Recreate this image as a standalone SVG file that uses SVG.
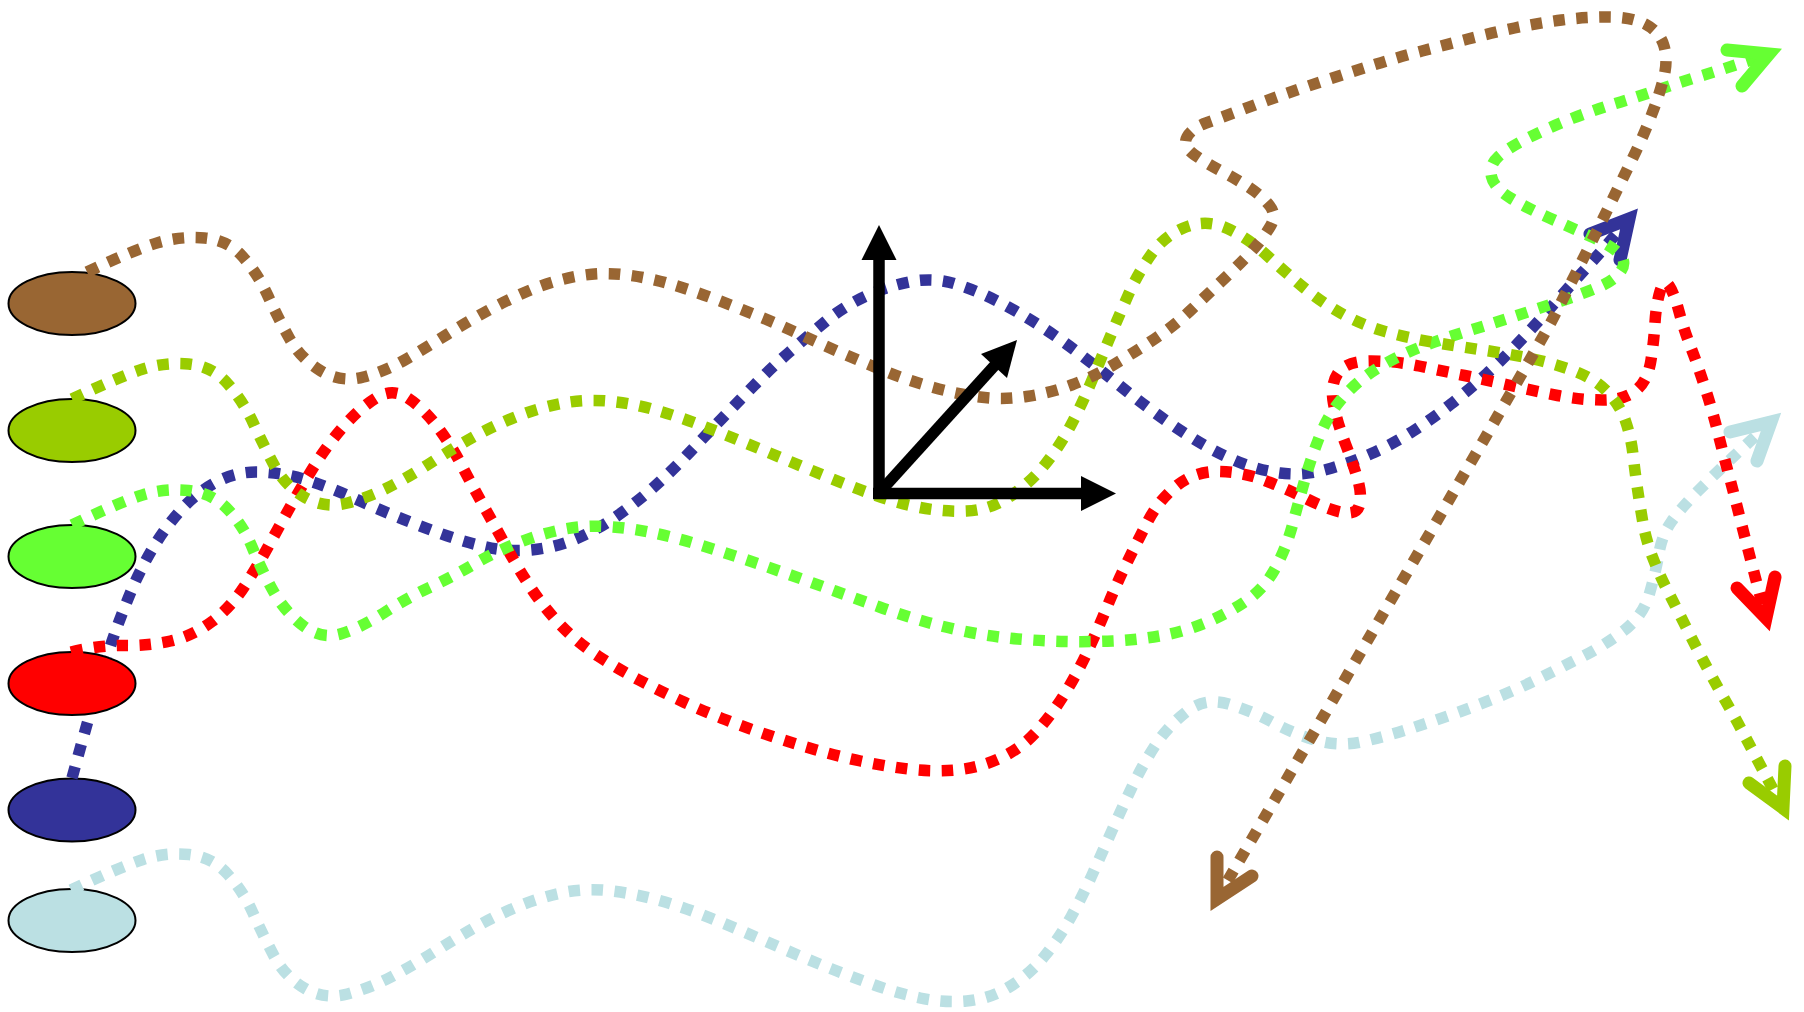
<svg xmlns="http://www.w3.org/2000/svg" width="1804" height="1012" viewBox="0 0 1804 1012">
<style>
.node{stroke:#000;stroke-width:2}
.dot{fill:none;stroke-width:11.5;stroke-dasharray:11.5 11.5}
.head{fill:none;stroke-width:13;stroke-linecap:round;stroke-linejoin:miter;stroke-miterlimit:10}
.axis{fill:none;stroke:#000;stroke-width:11.5}
.axhead{fill:#000;stroke:none}
</style>
<defs>
<mask id="hideRed" maskUnits="userSpaceOnUse" x="0" y="0" width="1804" height="1012">
<rect x="0" y="0" width="1804" height="1012" fill="#fff"/>
<ellipse cx="72" cy="683.5" rx="64.5" ry="32.5" fill="#000"/>
</mask>
</defs>
<rect width="1804" height="1012" fill="#fff"/>
<g id="node-brown"><ellipse class="node" cx="72" cy="303.5" rx="63.5" ry="31.5" fill="#996633"/></g>
<g id="node-yellowgreen"><ellipse class="node" cx="72" cy="430.5" rx="63.5" ry="31.5" fill="#99CC00"/></g>
<g id="node-green"><ellipse class="node" cx="72" cy="556.5" rx="63.5" ry="31.5" fill="#66FF33"/></g>
<g id="node-red"><ellipse class="node" cx="72" cy="683.5" rx="63.5" ry="31.5" fill="#FF0000"/></g>
<g id="node-blue"><ellipse class="node" cx="72" cy="810" rx="63.5" ry="31.5" fill="#333399"/></g>
<g id="node-lightblue"><ellipse class="node" cx="72" cy="920.5" rx="63.5" ry="31.5" fill="#BBE0E3"/></g>
<g id="connectors">
<g id="edge-lightblue">
<path class="dot" stroke="#BBE0E3" d="M71,890 Q120,867 143,859.5 Q166,852 189,854.5 Q212,857 227.5,874 Q243,891 252.5,912 Q262,933 273.5,955 Q285,977 305,988.5 Q325,1000 347.5,994 Q370,988 391,977 Q412,966 432.5,953 Q453,940 473,928.5 Q493,917 515.5,907.5 Q538,898 561,893 Q584,888 607.5,890.5 Q631,893 654,899 Q677,905 699,913.5 Q721,922 743,931.5 Q765,941 787,950.5 Q809,960 830.5,968.5 Q852,977 874.5,985 Q897,993 920,998 Q943,1003 966.5,1001 Q990,999 1010,986.5 Q1030,974 1045,955.5 Q1060,937 1071.5,916 Q1083,895 1092.5,874 Q1102,853 1112,830.5 Q1122,808 1132,787 Q1142,766 1154.5,746.5 Q1167,727 1186,712 Q1205,697 1228.5,704 Q1252,711 1273,722.5 Q1294,734 1317,740.5 Q1340,747 1363.5,741.5 Q1387,736 1409,729 Q1431,722 1453.5,714 Q1476,706 1498,697 Q1520,688 1541,677.5 Q1562,667 1583.5,656 Q1605,645 1624,630.5 Q1643,616 1649.5,593.5 Q1656,571 1659,553 Q1662,535 1671.5,521.5 Q1681,508 1698,491 Q1715,474 1732.5,457.5 Q1750,441 1771,422"/>
<path class="head" stroke="#BBE0E3" d="M1730,432 L1771,422 L1757,461"/>
</g>
<g id="edge-blue">
<path class="dot" stroke="#333399" mask="url(#hideRed)" d="M72,778 Q86,727 96.5,691 Q107,655 114.5,634 Q122,613 131,591.5 Q140,570 152,549.5 Q164,529 180,511 Q196,493 216.5,482 Q237,471 260.5,472 Q284,473 306.5,480 Q329,487 351,497 Q373,507 395,516 Q417,525 439,533 Q461,541 484,546.5 Q507,552 530.5,550 Q554,548 575.5,539 Q597,530 617,516 Q637,502 654.5,486.5 Q672,471 688.5,453.5 Q705,436 721.5,419 Q738,402 754.5,385 Q771,368 789.5,352 Q808,336 825.5,321.5 Q843,307 864,297 Q885,287 909,282 Q933,277 955.5,284 Q978,291 999,302 Q1020,313 1039.5,325.5 Q1059,338 1078.5,353 Q1098,368 1116.5,383 Q1135,398 1154,412 Q1173,426 1193,438.5 Q1213,451 1235,460.5 Q1257,470 1280,473 Q1303,476 1326.5,469.5 Q1350,463 1371.5,453.5 Q1393,444 1412.5,431.5 Q1432,419 1451,404 Q1470,389 1487,373.5 Q1504,358 1520.5,340.5 Q1537,323 1553,305 Q1569,287 1584.5,270 Q1600,253 1629,219"/>
<path class="head" stroke="#333399" d="M1590,234 L1629,219 L1620,260"/>
</g>
<g id="edge-red">
<path class="dot" stroke="#FF0000" d="M71,652 Q100,645 124,645.5 Q148,646 170.5,641 Q193,636 212,621.5 Q231,607 244,587 Q257,567 268.5,546 Q280,525 291.5,504.5 Q303,484 315.5,464 Q328,444 344,426 Q360,408 376,398 Q392,388 407,397.5 Q422,407 436,425 Q450,443 461.5,465 Q473,487 484.5,507.5 Q496,528 507.5,549 Q519,570 532,589.5 Q545,609 561.5,626 Q578,643 598,656 Q618,669 639,680 Q660,691 681.5,701 Q703,711 725,719.5 Q747,728 769.5,735.5 Q792,743 814.5,749.5 Q837,756 860.5,761 Q884,766 908,769 Q932,772 955.5,770 Q979,768 1000.5,758 Q1022,748 1037.5,730.5 Q1053,713 1065.5,692.5 Q1078,672 1088,650.5 Q1098,629 1107,607 Q1116,585 1126.5,563.5 Q1137,542 1148,521 Q1159,500 1177,485.5 Q1195,471 1219,471.5 Q1243,472 1265,480.5 Q1287,489 1308,499.5 Q1329,510 1343,512.5 Q1357,515 1359.5,505 Q1362,495 1358,480.5 Q1354,466 1345.5,444 Q1337,422 1333.5,403.5 Q1330,385 1338,373 Q1346,361 1371,361 Q1396,361 1419,366 Q1442,371 1464.5,375.5 Q1487,380 1510.5,385.5 Q1534,391 1557.5,395.5 Q1581,400 1603,400 Q1625,400 1636.5,390 Q1648,380 1651,360 Q1654,340 1655,322.5 Q1656,305 1660,291.5 Q1664,278 1669,285.5 Q1674,293 1679,311.5 Q1684,330 1690.5,346.5 Q1697,363 1704.5,386 Q1712,409 1717.5,431 Q1723,453 1729,475.5 Q1735,498 1741,522 Q1747,546 1766,618"/>
<path class="head" stroke="#FF0000" d="M1775,577 L1766,618 L1737,588"/>
</g>
<g id="edge-green">
<path class="dot" stroke="#66FF33" d="M72,525 Q120,502 142.5,495 Q165,488 188.5,490.5 Q212,493 227.5,509 Q243,525 252.5,548 Q262,571 273.5,591.5 Q285,612 303.5,626 Q322,640 342,633.5 Q362,627 384.5,612.5 Q407,598 429.5,587.5 Q452,577 472.5,565 Q493,553 515,544 Q537,535 560,530 Q583,525 607,526.5 Q631,528 654,533 Q677,538 700,545 Q723,552 745.5,559.5 Q768,567 790.5,575 Q813,583 835,591 Q857,599 879.5,607 Q902,615 924.5,621.5 Q947,628 970.5,632.5 Q994,637 1018,639 Q1042,641 1065.5,641.5 Q1089,642 1112.5,641 Q1136,640 1159.5,636 Q1183,632 1205,623 Q1227,614 1246,601 Q1265,588 1276,567 Q1287,546 1293,523 Q1299,500 1305.5,477.5 Q1312,455 1321,433 Q1330,411 1346,394 Q1362,377 1383,365 Q1404,353 1426,345 Q1448,337 1471,330 Q1494,323 1517,315.5 Q1540,308 1562.5,300.5 Q1585,293 1600,286.5 Q1615,280 1621,271 Q1627,262 1619.5,254 Q1612,246 1592,237 Q1572,228 1549.5,218 Q1527,208 1510.5,198 Q1494,188 1491.5,176.5 Q1489,165 1498.5,156.5 Q1508,148 1529,137.5 Q1550,127 1572,118.5 Q1594,110 1615.5,103.5 Q1637,97 1659,89.5 Q1681,82 1704,75 Q1727,68 1769,54"/>
<path class="head" stroke="#66FF33" d="M1727,50 L1769,54 L1742,86"/>
</g>
<g id="edge-yellowgreen">
<path class="dot" stroke="#99CC00" d="M72,399 Q121,376 143,369 Q165,362 188.5,364 Q212,366 227.5,383.5 Q243,401 253,422.5 Q263,444 274,465 Q285,486 305,497.5 Q325,509 347.5,503 Q370,497 391,486 Q412,475 432,462 Q452,449 472.5,437.5 Q493,426 515.5,417 Q538,408 561,403.5 Q584,399 607.5,401 Q631,403 654,409.5 Q677,416 699,424.5 Q721,433 743,442 Q765,451 786.5,460 Q808,469 830,478 Q852,487 874.5,495 Q897,503 920,507.5 Q943,512 966.5,511 Q990,510 1010,496.5 Q1030,483 1045,464.5 Q1060,446 1071,425 Q1082,404 1091,382.5 Q1100,361 1109,339.5 Q1118,318 1128,295.5 Q1138,273 1151.5,254 Q1165,235 1186,227 Q1207,219 1227.5,228.5 Q1248,238 1266.5,255 Q1285,272 1303,287 Q1321,302 1341.5,313.5 Q1362,325 1385,331.5 Q1408,338 1432,342 Q1456,346 1479.5,349.5 Q1503,353 1526,357.5 Q1549,362 1571.5,370 Q1594,378 1607,391.5 Q1620,405 1625.5,421 Q1631,437 1633,454.5 Q1635,472 1637.5,489 Q1640,506 1643,523 Q1646,540 1652.5,557 Q1659,574 1667.5,590.5 Q1676,607 1685,625 Q1694,643 1703.5,661 Q1713,679 1725,700 Q1737,721 1748,742 Q1759,763 1783,808"/>
<path class="head" stroke="#99CC00" d="M1785,766 L1783,808 L1749,783"/>
</g>
<g id="edge-brown">
<path class="dot" stroke="#996633" d="M87,272 Q136,249 158.5,242.5 Q181,236 204.5,238 Q228,240 243,257 Q258,274 268,296 Q278,318 289.5,338.5 Q301,359 321,371 Q341,383 363.5,377 Q386,371 406.5,359 Q427,347 447,334.5 Q467,322 488,310.5 Q509,299 530.5,290 Q552,281 575.5,276.5 Q599,272 622.5,274.5 Q646,277 668.5,283.5 Q691,290 713.5,298.5 Q736,307 758,316 Q780,325 801.5,335 Q823,345 845,354.5 Q867,364 888.5,372.5 Q910,381 933.5,387.5 Q957,394 980,397 Q1003,400 1026.5,396.5 Q1050,393 1071.5,385 Q1093,377 1114,364.5 Q1135,352 1154.5,339 Q1174,326 1191.5,309.5 Q1209,293 1226.5,276.5 Q1244,260 1254,248.5 Q1264,237 1270.5,226 Q1277,215 1269.5,205.5 Q1262,196 1250,188 Q1238,180 1222,171.5 Q1206,163 1194,154.5 Q1182,146 1187,137 Q1192,128 1206,123 Q1220,118 1242.5,109.5 Q1265,101 1286.5,93.5 Q1308,86 1331,78.5 Q1354,71 1376.5,64 Q1399,57 1422,51 Q1445,45 1468,39 Q1491,33 1514.5,28 Q1538,23 1561.5,20 Q1585,17 1608.5,17 Q1632,17 1646,24.5 Q1660,32 1664,46 Q1668,60 1664,76.5 Q1660,93 1651.5,115 Q1643,137 1632.5,158.5 Q1622,180 1611,202.5 Q1600,225 1585,255 Q1570,285 1553.5,317.5 Q1537,350 1217,899"/>
<path class="head" stroke="#996633" d="M1217,857 L1217,899 L1252,876"/>
</g>
<g id="axes">
<line class="axis" x1="879" y1="499" x2="879" y2="258"/>
<polygon class="axhead" points="879,225 861.5,260 896.5,260"/>
<line class="axis" x1="873" y1="493.5" x2="1083" y2="493.5"/>
<polygon class="axhead" points="1116,493.5 1081,476 1081,511"/>
<line class="axis" x1="879" y1="493" x2="996" y2="364"/>
<polygon class="axhead" points="1017,340 981,354 1007,378"/>
</g>
</g>
</svg>
